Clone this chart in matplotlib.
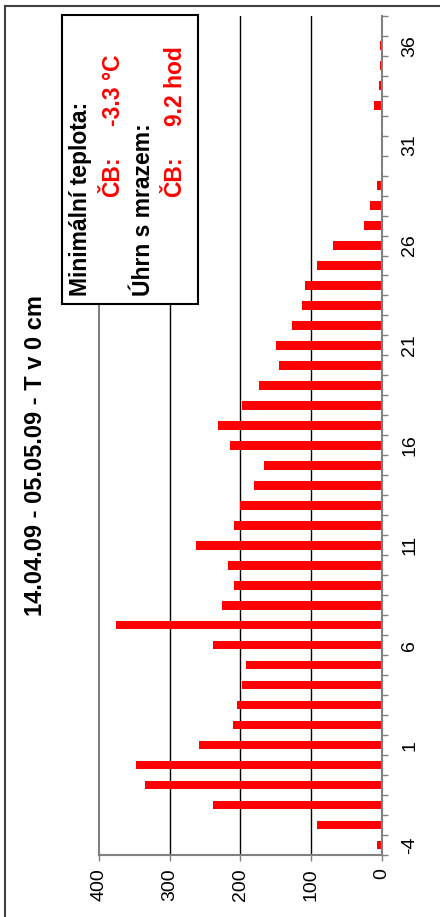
import numpy as np
import matplotlib
matplotlib.use('Agg')
import matplotlib.pyplot as plt
from matplotlib.patches import Rectangle
from matplotlib.lines import Line2D

# Data
days = list(range(-4, 38))
hours = [7, 92, 238, 335, 348, 259, 211, 205, 197, 192,
         238, 376, 226, 209, 218, 263, 209, 201, 181, 167,
         214, 231, 198, 173, 146, 150, 127, 113, 109, 92,
         69, 25.5, 17, 6.5, 0, 0, 0, 11, 4, 2.5,
         3, 0]
day_labels = [-4, 1, 6, 11, 16, 21, 26, 31, 36]
value_ticks = [0, 100, 200, 300, 400]
grid_values = [100, 200, 300]
title = '14.04.09 - 05.05.09 - T v 0 cm'
info_lines = [('Minimální teplota:', None), ('ČB:', '-3.3 °C'),
              ('Úhrn s mrazem:', None), ('ČB:', '9.2 hod')]

plt.rcParams['font.family'] = ['Liberation Sans', 'DejaVu Sans']

W, H = 440, 917
fig = plt.figure(figsize=(W / 100, H / 100), dpi=100)

def fx(px):
    return px / W

def fy(py):
    return 1 - py / H

# Axes placed in pixel terms
left, right, top, bottom = 98.7, 382, 15.7, 855
ax = fig.add_axes([fx(left), fy(bottom), fx(right - left), (bottom - top) / H])

for v in grid_values:
    ax.axvline(v, color='black', linewidth=1, zorder=1)
ax.barh(days, hours, height=0.43, color='#ff0000', zorder=2)

ax.set_xlim(400, 0)
ax.set_ylim(-4.5, 37.5)

# Spines
gray = '#808080'
ax.spines['top'].set_visible(False)
for s in ['left', 'right', 'bottom']:
    ax.spines[s].set_color(gray)
    ax.spines[s].set_linewidth(1.5)
    ax.spines[s].set_zorder(3)

# Category axis on the right, ticks between categories
ax.yaxis.tick_right()
ax.set_yticks(day_labels)
ax.set_yticklabels([str(d) for d in day_labels])
ax.set_yticks(np.arange(-4.5, 38, 1), minor=True)
ax.tick_params(axis='y', which='major', length=0, pad=20, labelsize=14, labelrotation=90)
ax.tick_params(axis='y', which='minor', length=4.3, width=1, color=gray, direction='out')
for t in ax.yaxis.get_major_ticks():
    t.label2.set_horizontalalignment('center')
    t.label2.set_verticalalignment('center')

# Value axis
ax.set_xticks(value_ticks)
ax.set_xticklabels([str(v) for v in value_ticks])
ax.tick_params(axis='x', which='major', length=4.3, width=1, color=gray, pad=5.5,
               labelsize=14, labelrotation=90)

# Title
fig.text(fx(36), fy(455), title, rotation=90, fontsize=17, fontweight='bold',
         ha='center', va='center')

# Info box
fig.patches.append(Rectangle((fx(62), fy(304)), fx(198 - 62), (304 - 15) / H,
                             transform=fig.transFigure, facecolor='white',
                             edgecolor='black', linewidth=1.5, zorder=5))
line_x = [80, 113, 143, 175]
for (label, value), xpos in zip(info_lines, line_x):
    if value is None:
        fig.text(fx(xpos), fy(296), label, rotation=90, rotation_mode='anchor',
                 ha='left', va='center', fontsize=16.5, fontweight='bold',
                 color='black', zorder=6)
    else:
        fig.text(fx(xpos), fy(196.7), label, rotation=90, rotation_mode='anchor',
                 ha='left', va='center', fontsize=16.5, fontweight='bold',
                 color='#ff0000', zorder=6)
        fig.text(fx(xpos), fy(126.5), value, rotation=90, rotation_mode='anchor',
                 ha='left', va='center', fontsize=16.5, fontweight='bold',
                 color='#ff0000', zorder=6)

# Outer frame edges
fig.add_artist(Line2D([fx(5), 1], [fy(5.7), fy(5.7)], transform=fig.transFigure,
                      color='#404040', linewidth=1.5))
fig.add_artist(Line2D([fx(5), fx(5)], [fy(5.7), 0], transform=fig.transFigure,
                      color='#404040', linewidth=1.5))

fig.savefig('out.png', dpi=100)
